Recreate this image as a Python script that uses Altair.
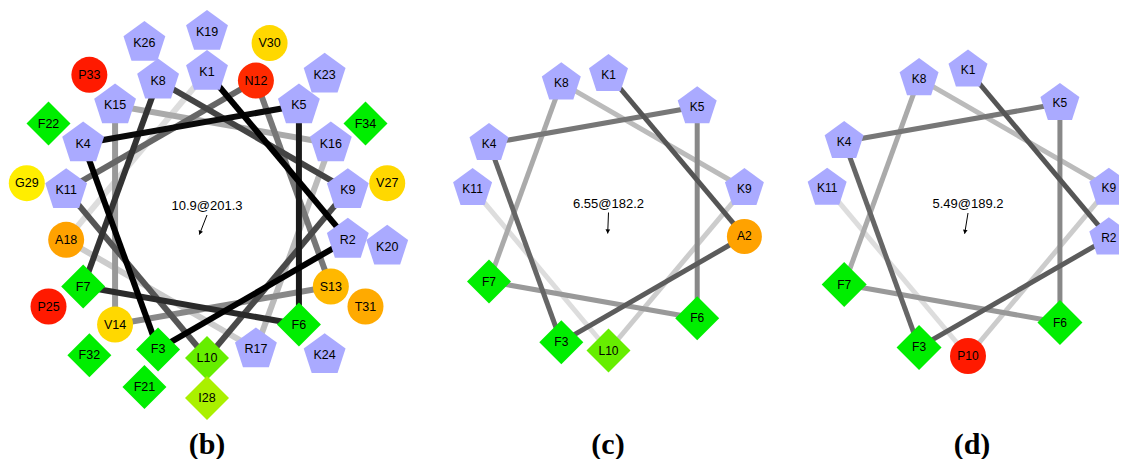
import math
import altair as alt
import pandas as pd

# ---- data -------------------------------------------------------------
seq_b = ["K", "R", "F", "K", "K", "F", "F", "K", "K", "L", "K", "N", "S", "V", "K", "K", "R",
         "A", "K", "K", "F", "F", "K", "K", "P", "K", "V", "I", "G", "V", "T", "F", "P", "F"]
seq_c = ["K", "A", "F", "K", "K", "F", "F", "K", "K", "L", "K"]
seq_d = ["K", "R", "F", "K", "K", "F", "F", "K", "K", "P", "K"]

moment_values = [10.9, 6.55, 5.49]
moment_angles = [201.3, 182.2, 189.2]
captions = ["(b)", "(c)", "(d)"]
caption_x = [199.0, 600.0, 964.0]

grays_b = ["#000000", "#000000", "#000000", "#0a0a0a", "#1a1a1a", "#2a2a2a", "#333333", "#444444",
           "#4a4a4a", "#555555", "#666666", "#777777", "#888888", "#999999", "#aaaaaa", "#bbbbbb",
           "#cccccc", "#dddddd"]
grays_cd = ["#555555", "#5c5c5c", "#666666", "#777777", "#888888", "#999999", "#aaaaaa",
            "#bbbbbb", "#cccccc", "#dddddd"]

residue_colors = {"K": "#aaaaff", "R": "#aaaaff", "F": "#00ee00", "L": "#66ee00", "I": "#aaf000",
                  "N": "#ff2a00", "P": "#ff1a00", "V": "#ffd800", "G": "#ffee00", "A": "#ffa200",
                  "S": "#ffb800", "T": "#ffaa00"}
residue_kind = {"K": "pos", "R": "pos", "F": "hyd", "L": "hyd", "I": "hyd"}

PENTAGON = "M0,-1L0.951,-0.309L0.588,0.809L-0.588,0.809L-0.951,-0.309Z"

# layout of each wheel (plot-area pixels)
panels = [
    dict(seq=seq_b, cx=199.0, cy=207.0, r0=143.0, dr=40.0, pent=44, diam=44, circ=36, fs=12.5,
         lw=6, grays=grays_b, close=True),
    dict(seq=seq_c, cx=600.5, cy=204.5, r0=138.0, dr=40.0, pent=41, diam=44, circ=35, fs=12,
         lw=5, grays=grays_cd, close=False),
    dict(seq=seq_d, cx=960.0, cy=205.0, r0=143.0, dr=40.0, pent=41, diam=45, circ=36, fs=12,
         lw=5, grays=grays_cd, close=False),
]

W, H = 1111, 451

nodes, segs, centers, heads, caps = [], [], [], [], []
for p_i, p in enumerate(panels):
    pos = {}
    for i, aa in enumerate(p["seq"]):
        ang = math.radians(100.0 * i)
        r = p["r0"] + p["dr"] * (i // 18)
        x = p["cx"] + r * math.sin(ang)
        y = p["cy"] - r * math.cos(ang)
        pos[i + 1] = (x, y)
        kind = residue_kind.get(aa, "pol")
        sz = {"pos": p["pent"], "hyd": p["diam"], "pol": p["circ"]}[kind] ** 2
        nodes.append(dict(panel=p_i, n=i + 1, label=f"{aa}{i + 1}", x=x, y=y, kind=kind,
                          col=residue_colors[aa], sz=sz, fs=p["fs"]))
    n_seg = len(p["grays"])
    for k in range(n_seg):
        a = k + 1
        b = k + 2
        if p["close"] and k == n_seg - 1:
            b = 1
        (x1, y1), (x2, y2) = pos[a], pos[b]
        segs.append(dict(panel=p_i, k=k, x=x1, y=y1, x2=x2, y2=y2, col=p["grays"][k], w=p["lw"]))
    th = math.radians(moment_angles[p_i])
    L = 21.0
    centers.append(dict(x=p["cx"], y=p["cy"], x2=p["cx"] + L * math.sin(th),
                        y2=p["cy"] - L * math.cos(th),
                        txt=f"{moment_values[p_i]}@{moment_angles[p_i]}", ty=p["cy"] - 9))
    heads.append(dict(x=p["cx"] + (L - 2) * math.sin(th), y=p["cy"] - (L - 2) * math.cos(th),
                      ang=moment_angles[p_i]))
    caps.append(dict(x=caption_x[p_i], y=446, txt=captions[p_i]))

nodes_df = pd.DataFrame(nodes)
segs_df = pd.DataFrame(segs).iloc[::-1].reset_index(drop=True)  # darker lines on top
centers_df = pd.DataFrame(centers)
heads_df = pd.DataFrame(heads)
caps_df = pd.DataFrame(caps)

xs = alt.Scale(domain=[0, W])
ys = alt.Scale(domain=[0, H], reverse=True)

lines = alt.Chart(segs_df).mark_rule(strokeCap="butt").encode(
    x=alt.X("x:Q", scale=xs, axis=None),
    y=alt.Y("y:Q", scale=ys, axis=None),
    x2="x2:Q",
    y2="y2:Q",
    color=alt.Color("col:N", scale=None),
    strokeWidth=alt.StrokeWidth("w:Q", scale=None),
)

shapes = alt.Chart(nodes_df).mark_point(filled=True, opacity=1, strokeWidth=0).encode(
    x=alt.X("x:Q", scale=xs, axis=None),
    y=alt.Y("y:Q", scale=ys, axis=None),
    shape=alt.Shape("kind:N", scale=alt.Scale(domain=["pos", "hyd", "pol"],
                                              range=[PENTAGON, "diamond", "circle"]), legend=None),
    size=alt.Size("sz:Q", scale=None),
    color=alt.Color("col:N", scale=None),
    order=alt.Order("n:Q"),
)

labels = alt.Chart(nodes_df).mark_text(font="Liberation Sans", baseline="middle", align="center",
                                       color="black").encode(
    x=alt.X("x:Q", scale=xs, axis=None),
    y=alt.Y("y:Q", scale=ys, axis=None),
    text="label:N",
    size=alt.Size("fs:Q", scale=None),
)

arrow = alt.Chart(centers_df).mark_rule(color="black", strokeWidth=1).encode(
    x=alt.X("x:Q", scale=xs, axis=None),
    y=alt.Y("y:Q", scale=ys, axis=None),
    x2="x2:Q",
    y2="y2:Q",
)

arrow_head = alt.Chart(heads_df).mark_point(shape="triangle-up", filled=True, opacity=1,
                                            color="black", size=22, strokeWidth=0).encode(
    x=alt.X("x:Q", scale=xs, axis=None),
    y=alt.Y("y:Q", scale=ys, axis=None),
    angle=alt.Angle("ang:Q", scale=None),
)

center_text = alt.Chart(centers_df).mark_text(font="Liberation Sans", fontSize=13,
                                              baseline="middle", align="center",
                                              color="black").encode(
    x=alt.X("x:Q", scale=xs, axis=None),
    y=alt.Y("ty:Q", scale=ys, axis=None),
    text="txt:N",
)

caption_text = alt.Chart(caps_df).mark_text(font="Liberation Serif", fontSize=30,
                                            fontWeight="bold", baseline="alphabetic",
                                            align="center", color="black").encode(
    x=alt.X("x:Q", scale=xs, axis=None),
    y=alt.Y("y:Q", scale=ys, axis=None),
    text="txt:N",
)

chart = alt.layer(lines, shapes, labels, arrow, arrow_head, center_text, caption_text).properties(
    width=W, height=H, padding=0, autosize="none", background="white"
).configure_view(stroke=None)

chart.save("out.html", embed_options={"renderer": "svg", "actions": False})
